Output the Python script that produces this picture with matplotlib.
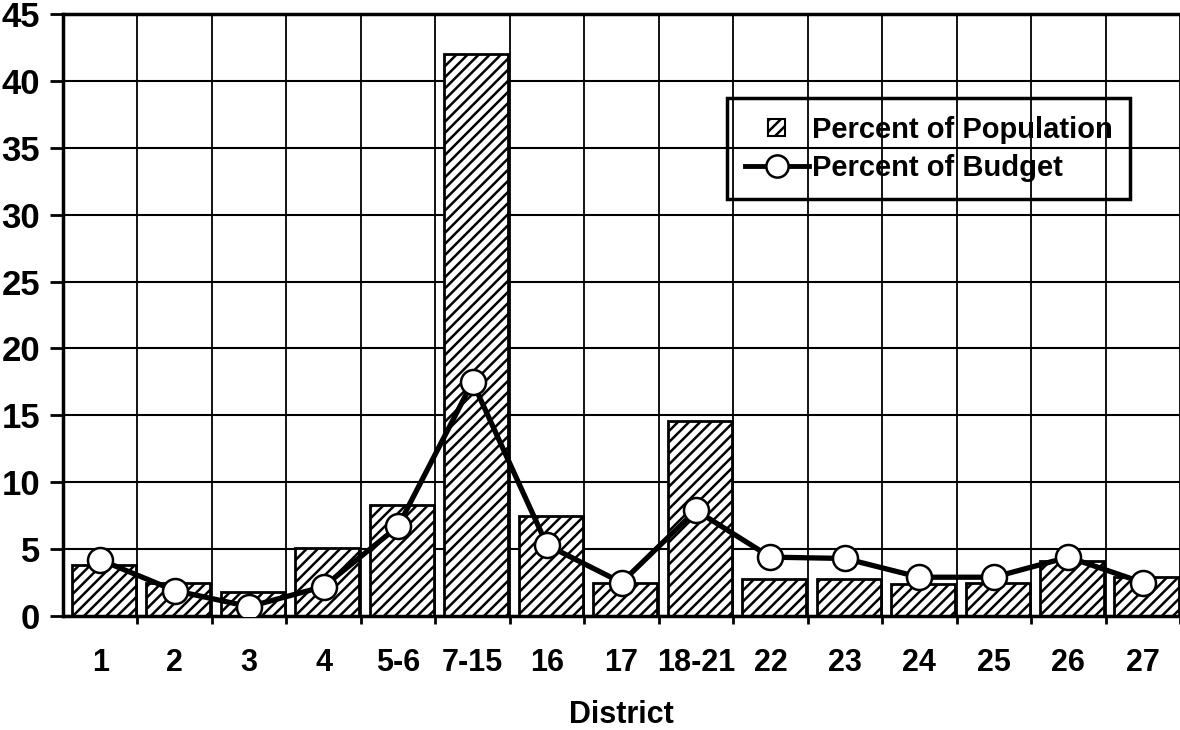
import numpy as np
import matplotlib
matplotlib.use("Agg")
import matplotlib.pyplot as plt
import matplotlib.patches as mpatches
from matplotlib.lines import Line2D
from matplotlib.legend_handler import HandlerPatch

districts = ["1", "2", "3", "4", "5-6", "7-15", "16", "17", "18-21",
             "22", "23", "24", "25", "26", "27"]
population = [3.8, 2.5, 1.8, 5.1, 8.3, 42.0, 7.5, 2.5, 14.6,
              2.8, 2.8, 2.4, 2.5, 4.1, 2.9]
budget = [4.2, 1.9, 0.7, 2.2, 6.7, 17.5, 5.3, 2.5, 7.9,
          4.4, 4.3, 2.9, 2.9, 4.4, 2.5]
yticks = [0, 5, 10, 15, 20, 25, 30, 35, 40, 45]

plt.rcParams["font.family"] = ["Liberation Sans", "DejaVu Sans"]
plt.rcParams["font.weight"] = "bold"
plt.rcParams["hatch.linewidth"] = 1.8

fig = plt.figure(figsize=(11.8, 7.3), dpi=100)
ax = fig.add_axes([63 / 1180, 114 / 730, 1117 / 1180, 602 / 730])

x = np.arange(len(districts))
ax.bar(x + 0.05, population, width=0.86, color="white", edgecolor="black",
       linewidth=2, hatch="///", zorder=2, label="Percent of Population")
ax.plot(x, budget, color="black", linewidth=3.8, marker="o", markersize=18,
        markerfacecolor="white", markeredgecolor="black", markeredgewidth=1.8,
        zorder=3, label="Percent of Budget")

ax.set_xlim(-0.5, -0.5 + 1117 / 74.9)
ax.set_ylim(0, 45)

ax.set_yticks(yticks)
ax.set_yticklabels([str(v) for v in yticks], fontsize=25, fontweight="bold")
ax.tick_params(axis="y", length=9.5, width=2, pad=7, direction="out")

ax.set_xticks(x)
ax.set_xticklabels(districts, fontsize=22, fontweight="bold")
ax.tick_params(axis="x", which="major", length=0, pad=23)
ax.set_xticks(np.arange(len(districts)) + 0.5, minor=True)
ax.tick_params(axis="x", which="minor", length=6, width=2, direction="out")

ax.grid(axis="y", which="major", color="black", linewidth=1.5, zorder=0)
ax.grid(axis="x", which="minor", color="black", linewidth=1.3, zorder=0)
ax.set_axisbelow(True)

for side in ["left", "bottom", "top"]:
    ax.spines[side].set_linewidth(2.5)
ax.spines["right"].set_visible(False)

ax.set_xlabel("District", fontsize=22, fontweight="bold", labelpad=16)


def square_patch(legend, orig_handle, xdescent, ydescent, width, height, fontsize):
    s = height * 0.85
    return mpatches.Rectangle((-xdescent + width / 2 - s / 2, -ydescent + height / 2 - s / 2), s, s)


pop_handle = mpatches.Patch(facecolor="white", edgecolor="black", hatch="///",
                            linewidth=1.5)
bud_handle = Line2D([], [], color="black", linewidth=3.5, marker="o", markersize=16,
                    markerfacecolor="white", markeredgecolor="black",
                    markeredgewidth=1.8)
leg = ax.legend([pop_handle, bud_handle],
                ["Percent of Population", "Percent of Budget"],
                loc="upper left", bbox_to_anchor=(727 / 1180, 1 - 98 / 730),
                bbox_transform=fig.transFigure, borderaxespad=0,
                fontsize=21, handlelength=2.2, handletextpad=0.1,
                labelspacing=0.35, borderpad=0.6, fancybox=False,
                facecolor="none", framealpha=1, edgecolor="black", numpoints=1,
                handler_map={mpatches.Patch: HandlerPatch(patch_func=square_patch)})
leg.get_frame().set_linewidth(2.5)
for t in leg.get_texts():
    t.set_fontweight("bold")

fig.savefig("out.png", dpi=100)
